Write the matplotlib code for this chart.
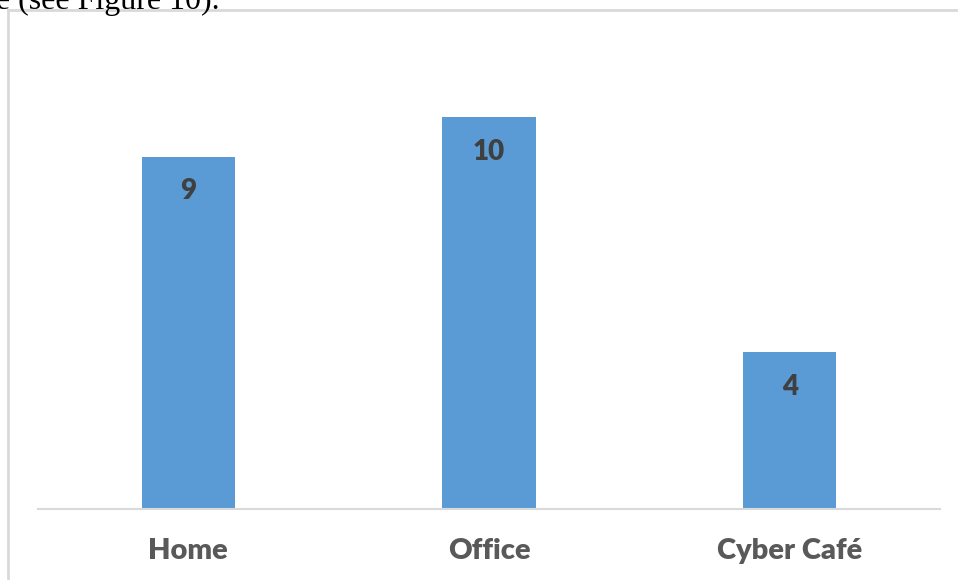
import matplotlib.pyplot as plt
from matplotlib.lines import Line2D

# Lugares de acesso e quantidade de respondentes
locais = ['Home', 'Office', 'Cyber Café']
respostas = [9, 10, 4]

W, H = 958, 580
fig = plt.figure(figsize=(W / 100, H / 100), dpi=100)


def fx(px):
    return px / W


def fy(py):
    return 1 - py / H


# linha de texto do documento cortada no topo
fig.text(fx(-13), fy(8.5), 'le (see Figure 10).', family='Liberation Serif',
         fontsize=23, color='black', va='baseline', ha='left')

# moldura da caixa do gráfico (só topo e esquerda aparecem)
borda = '#d9d9d9'
fig.add_artist(Line2D([fx(8), fx(958)], [fy(9.5), fy(9.5)], color=borda, lw=2,
                      transform=fig.transFigure))
fig.add_artist(Line2D([fx(8), fx(8)], [fy(9.5), fy(580)], color=borda, lw=2,
                      transform=fig.transFigure))

ax = fig.add_axes([fx(38), fy(509), fx(940) - fx(38), fy(39) - fy(509)])
x = range(len(locais))
ax.bar(x, respostas, width=0.31, color='#5b9bd5')
ax.set_xlim(-0.5, 2.5)
ax.set_ylim(0, 12)

for i, v in enumerate(respostas):
    ax.annotate(str(v), (i, v), xytext=(0, -25), textcoords='offset points',
                ha='center', va='center', fontsize=20, fontweight='heavy',
                color='#404040', family='Lato')

ax.set_xticks(list(x))
ax.set_xticklabels(locais, fontsize=21, fontweight='heavy', color='#595959',
                   family='Lato')
ax.tick_params(axis='x', length=0, pad=21)
ax.set_yticks([])
for s in ['top', 'right', 'left']:
    ax.spines[s].set_visible(False)
ax.spines['bottom'].set_color(borda)
ax.spines['bottom'].set_linewidth(1.5)

fig.savefig('out.png', dpi=100)
